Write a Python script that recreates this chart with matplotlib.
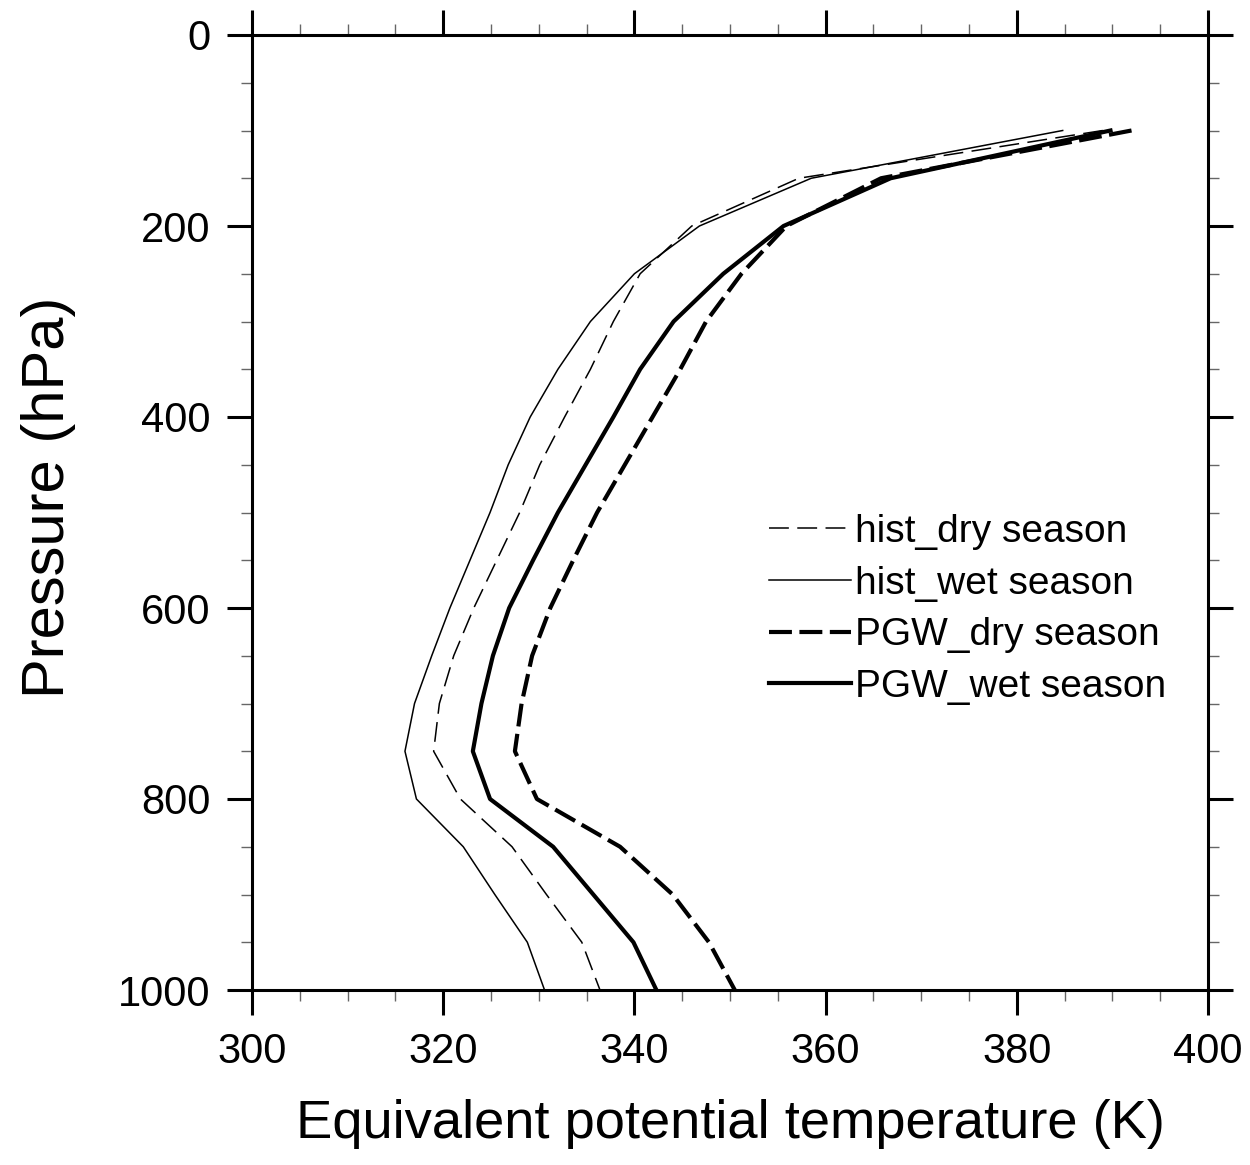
import numpy as np
import matplotlib.pyplot as plt

plt.rcParams['font.family'] = ['Liberation Sans', 'DejaVu Sans']

# pressure levels (hPa)
pres = [100, 150, 200, 250, 300, 350, 400, 450, 500, 550,
        600, 650, 700, 750, 800, 850, 900, 950, 1000]

# equivalent potential temperature (K)
hist_dry = [389.0, 357.2, 346.0, 340.6, 337.8, 335.4, 332.7, 330.1, 328.0, 325.6,
            323.2, 321.1, 319.6, 319.0, 321.8, 327.2, 330.8, 334.5, 336.4]
hist_wet = [384.8, 358.5, 346.8, 340.0, 335.4, 332.0, 329.1, 326.8, 324.9, 322.8,
            320.7, 318.8, 317.0, 316.0, 317.2, 322.1, 325.4, 328.8, 330.6]
pgw_dry = [392.0, 365.8, 355.9, 351.2, 347.5, 344.8, 341.9, 339.0, 336.1, 333.6,
           331.2, 329.3, 328.2, 327.5, 329.8, 338.5, 344.0, 347.8, 350.5]
pgw_wet = [389.8, 366.8, 355.6, 349.3, 344.1, 340.6, 337.8, 334.9, 332.0, 329.4,
           326.9, 325.2, 324.0, 323.1, 324.9, 331.5, 335.7, 339.9, 342.3]

fig = plt.figure(figsize=(12.5, 11.65), dpi=100)
ax = fig.add_axes([252/1250, 1 - 990/1165, 956/1250, 955/1165])

ax.plot(hist_dry, pres, color='black', lw=1.1, linestyle=(0, (13, 5.5)), label='hist_dry season')
ax.plot(hist_wet, pres, color='black', lw=1.1, label='hist_wet season')
ax.plot(pgw_dry, pres, color='black', lw=3.0, linestyle=(0, (5.5, 1.8)), label='PGW_dry season')
ax.plot(pgw_wet, pres, color='black', lw=3.0, label='PGW_wet season')

ax.set_xlim(300, 400)
ax.set_ylim(1000, 0)
ax.set_xticks(np.arange(300, 401, 20))
ax.set_xticks(np.arange(300, 401, 5), minor=True)
ax.set_yticks(np.arange(0, 1001, 200))
ax.set_yticks(np.arange(0, 1001, 50), minor=True)

for s in ax.spines.values():
    s.set_linewidth(2.2)

ax.tick_params(which='both', direction='out', top=True, right=True,
               labeltop=False, labelright=False)
ax.tick_params(which='major', length=18, width=2.2, labelsize=30, pad=12)
ax.tick_params(which='minor', length=8, width=1.0, color='#666666')

ax.set_xlabel('Equivalent potential temperature (K)', fontsize=39.2, labelpad=20)
ax.set_ylabel('Pressure (hPa)', fontsize=43)
ax.yaxis.set_label_coords(-0.184, 0.516)

ax.legend(loc='upper left', bbox_to_anchor=(769/1250, 1 - 514/1165),
          bbox_transform=fig.transFigure, frameon=False, fontsize=28,
          handlelength=2.1, handletextpad=0.12, borderpad=0, borderaxespad=0,
          labelspacing=0.40)

fig.savefig('out.png', dpi=100)
